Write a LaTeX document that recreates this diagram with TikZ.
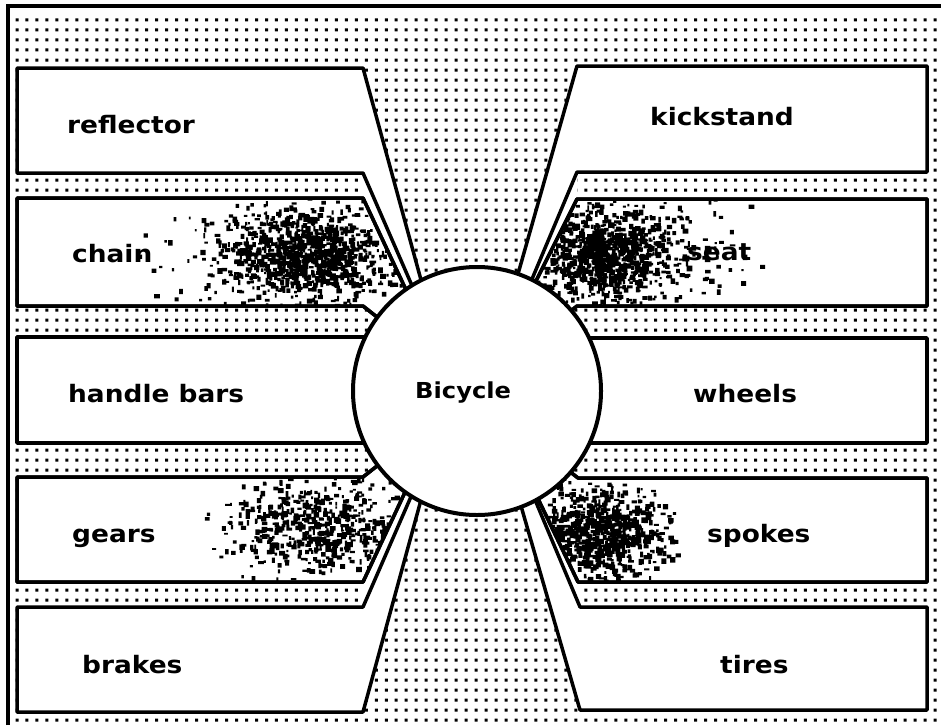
\documentclass[tikz,border=0pt]{standalone}
\usepackage{fontspec}
\setmainfont{DejaVu Sans}
\newcommand\wide[1]{\scalebox{1.1}[1]{\bfseries #1}}
\newcommand\speckle[5]{%
  \fill \foreach \k in {1,...,#5}{ ({#1+#2*2*(rnd+rnd+rnd-1.5)},{#3+#4*2*(rnd+rnd+rnd-1.5)}) rectangle ++({1.8+4*rnd},{1.8+4*rnd}) };}
\begin{document}
\begin{tikzpicture}[x=1pt,y=-1pt,
  boxst/.style={fill=white,draw=black,line width=3.5pt,line join=round},
  edge/.style={draw=black,line width=3.5pt,line join=round},
  lab/.style={inner sep=0pt,anchor=base west,font=\fontsize{24}{29}\selectfont},
]
\useasboundingbox (0,0) rectangle (941,725);
\fill[white] (0,0) rectangle (941,725);
% dotted background
\fill \foreach \i in {0,...,92}{\foreach \j in {0,...,70}{ (15.5+\i*9.98,18.5+\j*10) rectangle ++(3,3) }};
% white gaps between neighbouring tails
\fill[white] (363,173)--(431.3,330)--(424.8,330)--(363,198)--cycle;
\fill[white] (363,582)--(423.8,452)--(430.4,452)--(363,607)--cycle;
\fill[white] (577,172)--(523.2,300)--(526.5,300)--(577,199)--cycle;
\fill[white] (578,582)--(529,480)--(526.7,480)--(580,607)--cycle;
% left boxes
\path[boxst,save path=\preflector] (17,68)--(363,68)--(434.7,330)--(431.3,330)--(363,173)--(17,173)--cycle;
\path[boxst,save path=\pchain] (17,198)--(363,198)--(424.8,330)--(393.5,330)--(363,306)--(17,306)--cycle;
\path[boxst,save path=\phandle] (17,337)--(440,337)--(440,443)--(17,443)--cycle;
\path[boxst,save path=\pgears] (17,477)--(363,477)--(394.8,452)--(423.8,452)--(363,582)--(17,582)--cycle;
\path[boxst,save path=\pbrakes] (17,607)--(363,607)--(430.4,452)--(434.1,452)--(363,712)--(17,712)--cycle;
% right boxes
\path[boxst,save path=\pkick] (927,66)--(577,66)--(502.1,330)--(523.2,300)--(577,172)--(927,172)--cycle;
\path[boxst,save path=\pseat] (927,199)--(577,199)--(526.5,300)--(546.5,330)--(577,306)--(927,306)--cycle;
\path[boxst,save path=\pwheels] (927,338)--(515,338)--(515,443)--(927,443)--cycle;
\path[boxst,save path=\pspokes] (927,478)--(578,478)--(545,452)--(529,480)--(578,582)--(927,582)--cycle;
\path[boxst,save path=\ptires] (927,607)--(580,607)--(526.7,480)--(505.4,452)--(580,710)--(927,710)--cycle;
% speckled shading
\pgfmathsetseed{4711}
\begin{scope}\clip[use path=\pchain]; \speckle{305}{40}{252}{22}{900}\speckle{250}{50}{255}{25}{150}\end{scope}
\begin{scope}\clip[use path=\pseat]; \speckle{605}{33}{252}{22}{850}\speckle{660}{55}{255}{25}{120}\end{scope}
\begin{scope}\clip[use path=\pgears]; \speckle{318}{45}{525}{22}{550}\end{scope}
\begin{scope}\clip[use path=\pspokes]; \speckle{598}{32}{530}{22}{750}\end{scope}
\path[edge,use path=\pchain];
\path[edge,use path=\pseat];
\path[edge,use path=\pgears];
\path[edge,use path=\pspokes];
% centre
\node[circle,draw=black,fill=white,line width=4pt,minimum size=248pt,inner sep=0pt] (bike) at (477,391) {};
\node[inner sep=0pt,anchor=base west,font=\fontsize{22}{27}\selectfont] (title) at (415,398) {\wide{Bicycle}};
% labels
\node[lab] (reflector) at (67,133) {\wide{reflector}};
\node[lab] (chain) at (72,262) {\wide{chain}};
\node[lab] (handlebars) at (68,402) {\wide{handle bars}};
\node[lab] (gears) at (72,542) {\wide{gears}};
\node[lab] (brakes) at (82,673) {\wide{brakes}};
\node[lab] (kickstand) at (650,125) {\wide{kickstand}};
\node[lab] (seat) at (687,260) {\wide{seat}};
\node[lab] (wheels) at (693,402) {\wide{wheels}};
\node[lab] (spokes) at (707,542) {\wide{spokes}};
\node[lab] (tires) at (720,673) {\wide{tires}};
% frame
\draw[line width=3.5pt] (8,725)--(8,6)--(941,6);
\end{tikzpicture}
\end{document}
